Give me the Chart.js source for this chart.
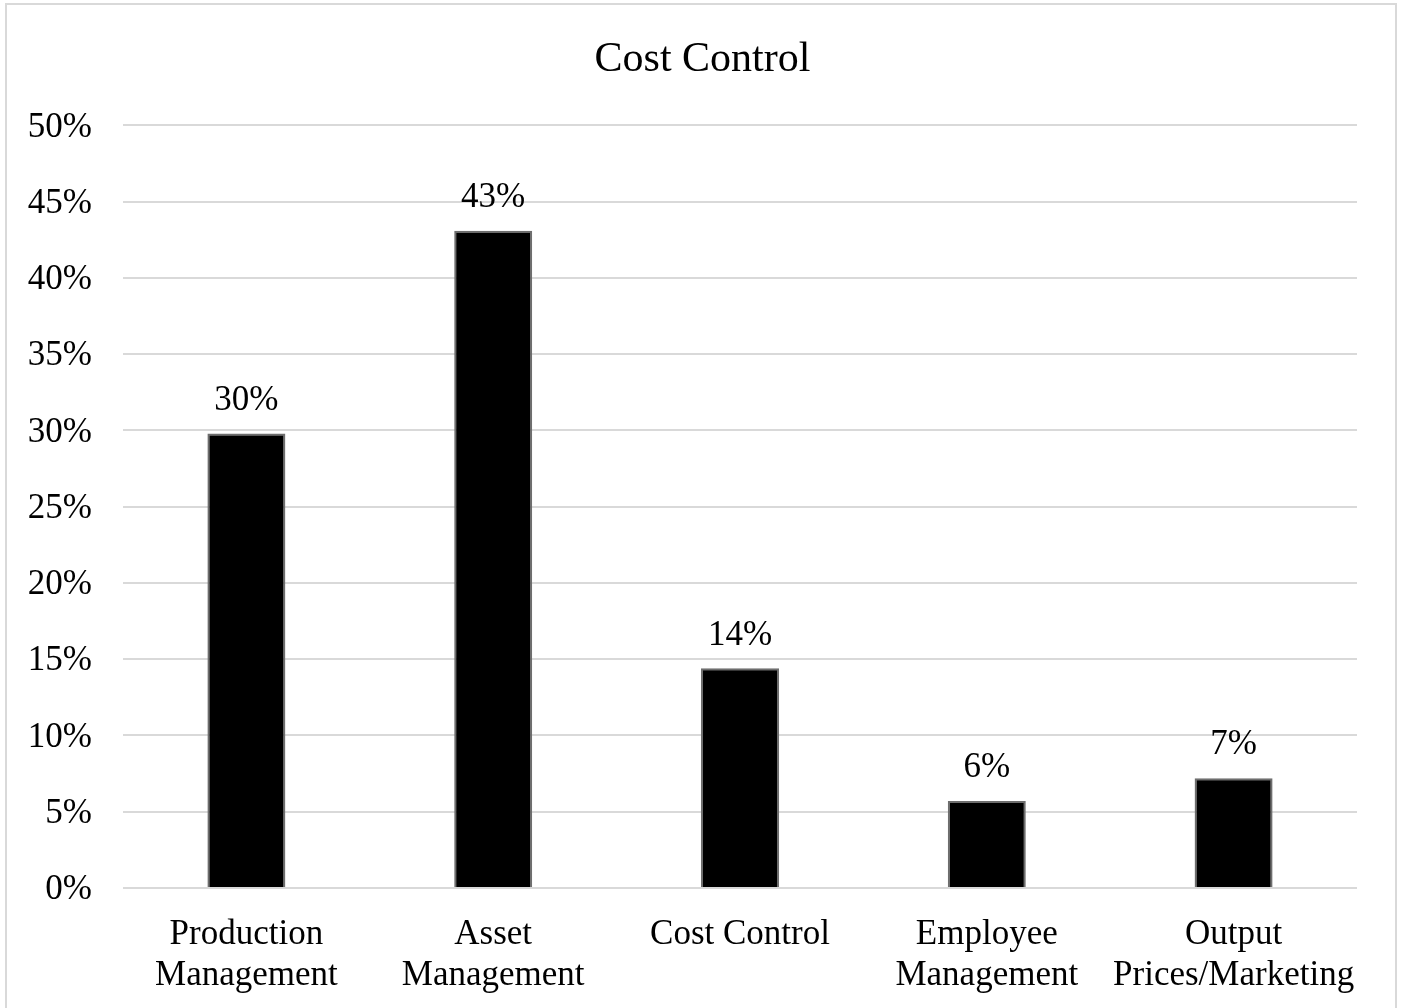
<!DOCTYPE html>
<html>
<head>
<meta charset="utf-8">
<title>Cost Control</title>
<script src="https://cdn.jsdelivr.net/npm/chart.js@4.4.1/dist/chart.umd.min.js"></script>
<style>
  html, body { margin: 0; padding: 0; background: #fff; overflow: hidden; }
  #frame {
    position: absolute; left: 5px; top: 3px;
    width: 1388px; height: 1040px;
    border: 2px solid #d9d9d9;
  }
  #wrap { position: absolute; left: 0; top: 0; width: 1405px; height: 1008px; }
</style>
</head>
<body>
<div id="frame"></div>
<div id="wrap"><canvas id="chart"></canvas></div>
<script>
const categories = [
  ['Production', 'Management'],
  ['Asset', 'Management'],
  'Cost Control',
  ['Employee', 'Management'],
  ['Output', 'Prices/Marketing']
];
const shares = [29.8, 43.1, 14.4, 5.7, 7.2];   // percent of respondents
const yTicks = [0, 5, 10, 15, 20, 25, 30, 35, 40, 45, 50];

const serif = '"Liberation Serif", "Times New Roman", serif';

// value labels above each bar
const barLabels = {
  id: 'barLabels',
  afterDatasetsDraw(chart) {
    const ctx = chart.ctx;
    const meta = chart.getDatasetMeta(0);
    ctx.save();
    ctx.font = `35px ${serif}`;
    ctx.fillStyle = '#000';
    ctx.textAlign = 'center';
    ctx.textBaseline = 'middle';
    meta.data.forEach((bar, i) => {
      ctx.fillText(Math.round(shares[i]) + '%', bar.x, bar.y - 33);
    });
    ctx.restore();
  }
};

new Chart(document.getElementById('chart'), {
  type: 'bar',
  data: {
    labels: categories,
    datasets: [{
      data: shares,
      backgroundColor: '#000',
      borderColor: '#6e6e6e',
      borderWidth: 2,
      barPercentage: 0.316,
      categoryPercentage: 1
    }]
  },
  options: {
    responsive: true,
    maintainAspectRatio: false,
    animation: false,
    layout: { padding: { left: 24, right: 24, top: 0, bottom: 0 } },
    plugins: {
      legend: { display: false },
      tooltip: { enabled: false },
      title: {
        display: true,
        text: 'Cost Control',
        color: '#000',
        font: { family: serif, size: 42, weight: 'normal' },
        padding: { top: 35, bottom: 40 }
      }
    },
    scales: {
      x: {
        grid: { display: false },
        border: { display: false },
        ticks: {
          color: '#000',
          font: { family: serif, size: 35, lineHeight: 1.15 },
          padding: 19,
          maxRotation: 0,
          autoSkip: false
        },
        afterFit: (scale) => { scale.height = 120; }
      },
      y: {
        min: 0,
        max: 50,
        afterBuildTicks: (scale) => { scale.ticks = yTicks.map(v => ({ value: v })); },
        grid: { color: '#d9d9d9', lineWidth: 2, drawTicks: false },
        border: { display: false },
        ticks: {
          color: '#000',
          font: { family: serif, size: 35 },
          padding: 31,
          labelOffset: 2,
          callback: (v) => v + '%'
        },
        afterFit: (scale) => { scale.width = 99; }
      },
      // empty right-hand gutter so the plot sits symmetric under the title
      gutter: {
        type: 'linear',
        position: 'right',
        grid: { display: false },
        border: { display: false },
        ticks: { display: false },
        afterFit: (scale) => { scale.width = 24; }
      }
    }
  },
  plugins: [barLabels]
});
</script>
</body>
</html>
